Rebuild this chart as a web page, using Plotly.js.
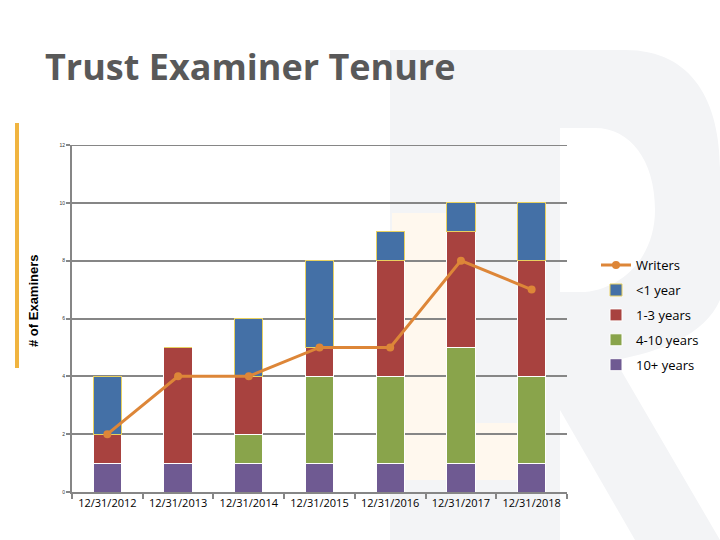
<!DOCTYPE html>
<html>
<head>
<meta charset="utf-8">
<script src="https://cdn.plot.ly/plotly-3.0.1.min.js"></script>
<style>html,body{margin:0;padding:0;background:#fff;}#chart{width:720px;height:540px;}</style>
</head>
<body>
<div id="chart"></div>
<script>
var dates = ["12/31/2012","12/31/2013","12/31/2014","12/31/2015","12/31/2016","12/31/2017","12/31/2018"];
var tenPlus = [1,1,1,1,1,1,1];
var fourToTen = [0,0,1,3,3,4,3];
var oneToThree = [1,4,2,1,4,4,4];
var lessThanOne = [2,0,2,3,1,1,2];
var writers = [2,4,4,5,5,8,7];
var yTicks = [0,2,4,6,8,10,12];

// plot area in pixels (for decorative background shapes only)
var L = 72, R = 567, T = 145, B = 492;
function px(x){ return ((x - L) / (R - L)).toFixed(4); }
function py(y){ return ((B - y) / (B - T)).toFixed(4); }
function pathPx(cmds){
  return cmds.map(function(c){
    var s = c[0];
    for (var i = 1; i < c.length; i += 2) s += (i > 1 ? " " : "") + px(c[i]) + "," + py(c[i+1]);
    return s;
  }).join(" ") + " Z";
}

function bar(name, y, color, lineColor, rank){
  return {type:"bar", name:name, legendgroup:name, legendrank:rank, x:dates, y:y, width:0.4,
    marker:{color:color, line:{color:lineColor, width:1}}, hoverinfo:"y+name"};
}
var traces = [
  bar("10+ years", tenPlus, "#6f5a92", "#ffffff", 5),
  bar("4-10 years", fourToTen, "#89a44b", "#ffffff", 4),
  bar("1-3 years", oneToThree, "#a8423f", "#ffffff", 3),
  bar("<1 year", lessThanOne, "#4470a6", "#e8d060", 2),
  {type:"scatter", mode:"lines+markers", name:"Writers", legendgroup:"Writers", legendrank:1, x:dates, y:writers,
   line:{color:"#dd8638", width:3}, marker:{color:"#dd8638", size:8}}
];

var watermarkOuter = pathPx([
  ["M",390,50],["L",625,50],["C",695,50,720,105,720,170],["L",720,300],
  ["C",705,335,660,352,615,360],["L",720,540],["L",635,540],["L",560,410],["L",560,540],["L",390,540]
]);
var watermarkHole = pathPx([
  ["M",560,128],["L",560,292],["L",585,292],["C",625,288,655,255,655,210],["C",655,160,630,128,595,128]
]);
var yMax = yTicks[yTicks.length - 1];

var layout = {
  width:720, height:540, barmode:"stack",
  paper_bgcolor:"rgba(0,0,0,0)", plot_bgcolor:"rgba(0,0,0,0)",
  margin:{l:L, r:720-R, t:T, b:540-B},
  font:{family:"Liberation Sans, Arial, sans-serif", color:"#000"},
  title:{text:"<b>Trust Examiner Tenure</b>", x:0.0625, xanchor:"left", y:0.875, yanchor:"middle",
    font:{family:"Open Sans", size:36, color:"#595959"}},
  xaxis:{type:"category", showgrid:false, showline:true, linecolor:"#868686", linewidth:2,
    ticks:"outside", tickson:"boundaries", ticklen:5, tickcolor:"#868686", tickwidth:2,
    tickfont:{size:11, color:"#000", family:"Open Sans"}},
  yaxis:{range:[0,yMax], tickvals:yTicks, showgrid:true, gridcolor:"#868686", gridwidth:2,
    showline:true, linecolor:"#868686", linewidth:2, zeroline:false,
    ticks:"outside", ticklen:4, tickcolor:"#868686", tickwidth:2,
    tickfont:{size:5, color:"#333"}},
  legend:{traceorder:"grouped", x:1.0586, xanchor:"left", y:0.697, yanchor:"top",
    font:{size:13, family:"Open Sans", color:"#000"}, tracegroupgap:5, itemwidth:30,
    bgcolor:"rgba(0,0,0,0)"},
  annotations:[
    {text:"<b># of Examiners</b>", xref:"paper", yref:"paper", x:px(33), y:py(300),
     xanchor:"center", yanchor:"middle", textangle:-90, showarrow:false,
     font:{size:13, family:"Liberation Sans", color:"#000"}}
  ],
  shapes:[
    {type:"path", xref:"paper", yref:"paper", path:watermarkOuter + " " + watermarkHole,
     fillcolor:"#f3f4f6", line:{width:0}, layer:"below"},
    {type:"rect", xref:"paper", yref:"paper", x0:px(392), x1:px(473), y0:py(480), y1:py(213),
     fillcolor:"#fff8ee", line:{width:0}, layer:"below"},
    {type:"rect", xref:"paper", yref:"paper", x0:px(407), x1:px(540), y0:py(480), y1:py(423),
     fillcolor:"#fff8ee", line:{width:0}, layer:"below"},
    {type:"line", xref:"paper", yref:"y", x0:0, x1:1, y0:yMax, y1:yMax,
     line:{color:"#868686", width:2}, layer:"below"},
    {type:"line", xref:"paper", yref:"paper", x0:px(17), x1:px(17), y0:py(368), y1:py(123),
     line:{color:"#f0b440", width:4}}
  ],
  showlegend:true
};
Plotly.newPlot("chart", traces, layout, {staticPlot:true});
</script>
</body>
</html>
